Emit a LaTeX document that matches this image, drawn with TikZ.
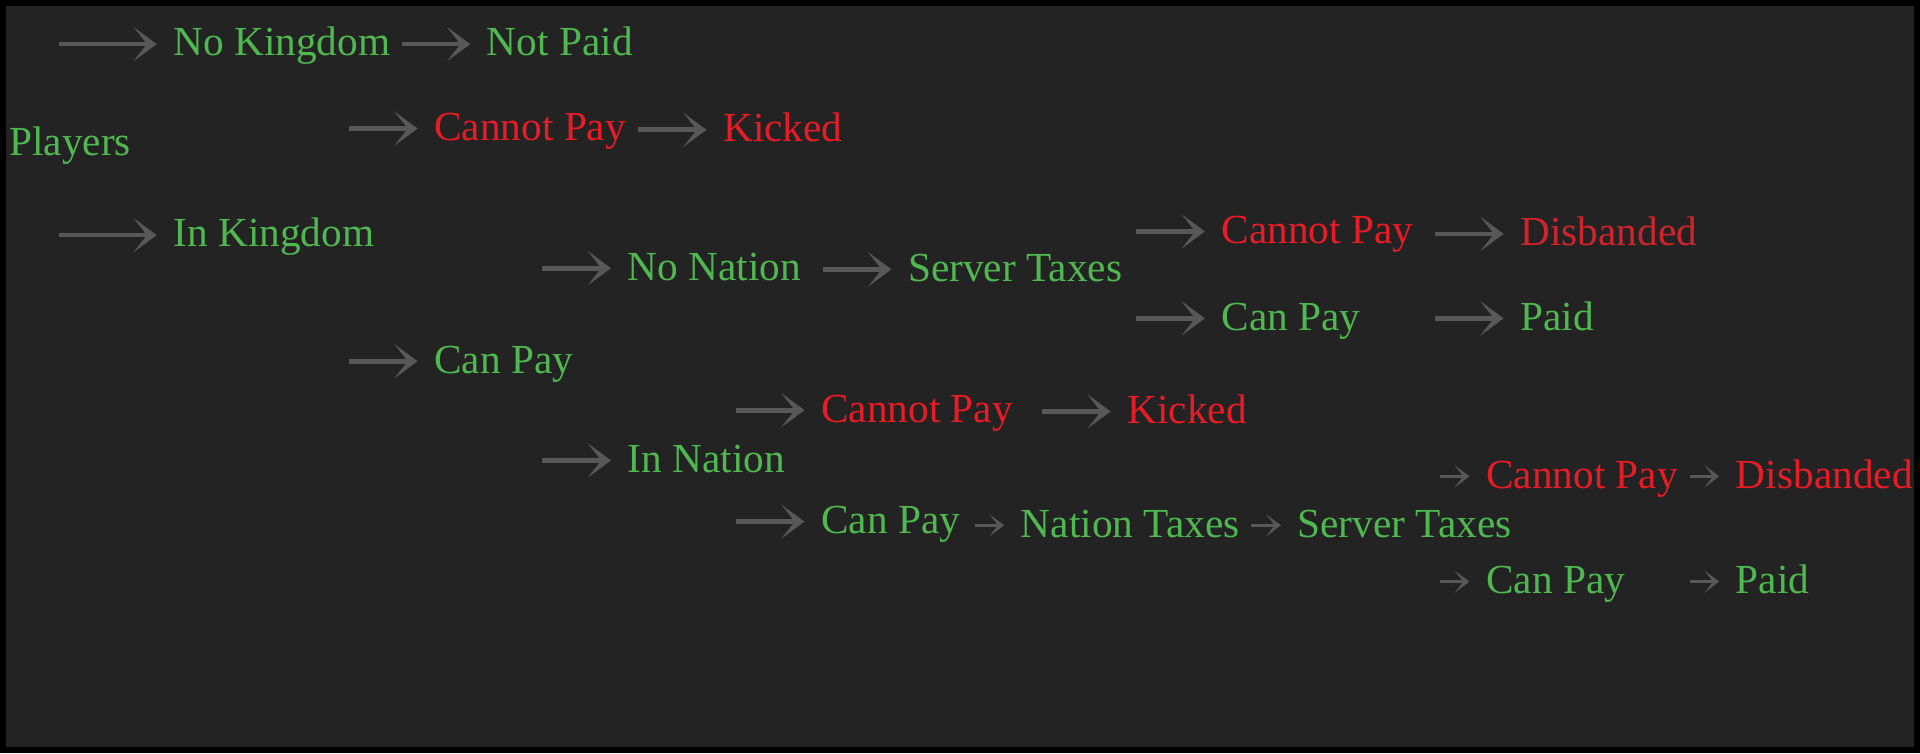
\documentclass[tikz,border=0pt]{standalone}
\usepackage{fontspec}
\setmainfont{Liberation Serif}
\usepackage{tikz}
\usetikzlibrary{arrows.meta}

\definecolor{bggray}{RGB}{35,35,35}
\definecolor{arrgray}{RGB}{88,88,88}
\definecolor{grn}{RGB}{80,184,80}
\definecolor{rd}{RGB}{232,28,38}
\definecolor{darkrd}{RGB}{208,36,44}

\tikzset{
    lbl/.style={anchor=west, inner xsep=1.3mm, inner ysep=0pt, text height=1.6ex, text depth=0.4ex, font=\fontsize{9.6}{11}\selectfont},
    good/.style={lbl, text=grn},
    bad/.style={lbl, text=rd},
    longarr/.style={draw=arrgray, line width=1.1pt, -{Stealth[length=1.9mm, width=2.8mm, inset=1.1mm]}},
    shortarr/.style={draw=arrgray, line width=0.7pt, -{Stealth[length=1.2mm, width=1.8mm, inset=0.7mm]}}
}

\begin{document}
\begin{tikzpicture}
    \useasboundingbox (0,0) rectangle (15.68,-6.15);
    \fill[black] (0,0) rectangle (15.68,-6.15);
    \fill[bggray] (0.05,-0.05) rectangle (15.63,-6.10);

    \node[good] at (-0.06,-1.17) (pl) {Players};
    \node[good] at (1.28,-0.36) (nk) {No Kingdom};
    \node[good] at (3.84,-0.36) (np) {Not Paid};
    \node[good] at (1.28,-1.92) (ik) {In Kingdom};

    \node[bad] at (3.41,-1.05) (cp1) {Cannot Pay};
    \node[bad] at (5.77,-1.06) (kk1) {Kicked};
    \node[good] at (3.41,-2.95) (cy2) {Can Pay};

    \node[good] at (4.99,-2.19) (nn) {No Nation};
    \node[good] at (7.28,-2.20) (st1) {Server Taxes};
    \node[bad] at (9.84,-1.89) (cp2) {Cannot Pay};
    \node[lbl, text=darkrd] at (12.28,-1.91) (db1) {Disbanded};
    \node[good] at (9.84,-2.60) (cy1) {Can Pay};
    \node[good] at (12.28,-2.60) (pd1) {Paid};

    \node[good] at (4.99,-3.76) (in) {In Nation};
    \node[bad] at (6.57,-3.35) (cp3) {Cannot Pay};
    \node[bad] at (9.07,-3.36) (kk2) {Kicked};
    \node[good] at (6.57,-4.26) (cy3) {Can Pay};
    \node[good] at (8.20,-4.29) (nt) {Nation Taxes};
    \node[good] at (10.46,-4.29) (st2) {Server Taxes};
    \node[bad] at (12.00,-3.89) (cp4) {Cannot Pay};
    \node[bad] at (14.04,-3.89) (db2) {Disbanded};
    \node[good] at (12.00,-4.75) (cy4) {Can Pay};
    \node[good] at (14.04,-4.75) (pd2) {Paid};

    \foreach \n in {nk,ik}
        \draw[longarr] ([xshift=-8mm]\n.west) -- (\n.west);
    \foreach \n in {np,cp1,kk1,cy2,nn,st1,cp2,db1,cy1,pd1,in,cp3,kk2,cy3}
        \draw[longarr] ([xshift=-5.6mm]\n.west) -- (\n.west);
    \foreach \n in {nt,st2,cp4,db2,cy4,pd2}
        \draw[shortarr] ([xshift=-2.4mm]\n.west) -- (\n.west);
\end{tikzpicture}
\end{document}
